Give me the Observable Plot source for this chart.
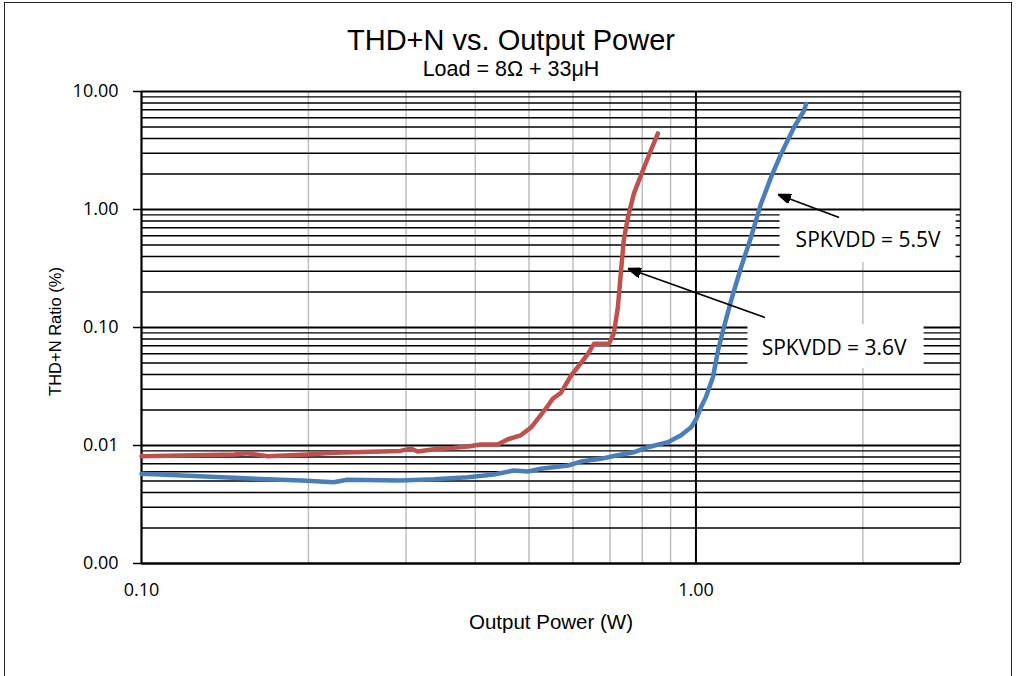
<!DOCTYPE html>
<html>
<head>
<meta charset="utf-8">
<script src="https://cdn.jsdelivr.net/npm/d3@7"></script>
<script src="https://cdn.jsdelivr.net/npm/@observablehq/plot@0.6"></script>
<style>
  html, body { margin: 0; padding: 0; background: #fff; }
  #wrap { position: relative; width: 1019px; height: 676px; overflow: hidden; }
  #border { position: absolute; left: 4px; top: 2px; width: 1008px; height: 720px; border: 1.5px solid #222; box-sizing: border-box; pointer-events: none; }
  svg text { fill: #000; }
</style>
</head>
<body>
<div id="wrap"><div id="border"></div></div>
<script>
// ---- Data ----
const titleText = "THD+N vs. Output Power";
const subtitleText = "Load = 8Ω + 33μH";
const xLabel = "Output Power (W)";
const yLabel = "THD+N Ratio (%)";

const xTicks = [0.1, 1];
const xTickLabels = ["0.10", "1.00"];
const yTicks = [0.001, 0.01, 0.1, 1, 10];
const yTickLabels = ["0.00", "0.01", "0.10", "1.00", "10.00"];

const seriesNames = ["SPKVDD = 3.6V", "SPKVDD = 5.5V"];
const seriesColors = ["#C0504D", "#4A7EBB"];

// SPKVDD = 3.6V (red)
const redPower = [0.100, 0.147, 0.155, 0.169, 0.199, 0.222, 0.293, 0.306, 0.315, 0.337, 0.361, 0.388, 0.409, 0.439, 0.458, 0.483, 0.504, 0.519, 0.541, 0.552, 0.571, 0.595, 0.620, 0.639, 0.655, 0.697, 0.711, 0.723, 0.732, 0.741, 0.754, 0.773, 0.806, 0.829, 0.854];
const redThd   = [0.0081, 0.0084, 0.0086, 0.0081, 0.0084, 0.0087, 0.0090, 0.0094, 0.0089, 0.0093, 0.0095, 0.0098, 0.0102, 0.0102, 0.0113, 0.0122, 0.0142, 0.0169, 0.0218, 0.025, 0.028, 0.039, 0.050, 0.060, 0.073, 0.073, 0.089, 0.148, 0.29, 0.55, 0.86, 1.37, 2.27, 3.16, 4.41];

// SPKVDD = 5.5V (blue)
const bluePower = [0.100, 0.147, 0.194, 0.222, 0.235, 0.293, 0.337, 0.388, 0.432, 0.469, 0.498, 0.525, 0.588, 0.620, 0.674, 0.711, 0.773, 0.819, 0.890, 0.940, 0.980, 1.000, 1.021, 1.042, 1.073, 1.096, 1.119, 1.157, 1.206, 1.257, 1.310, 1.366, 1.424, 1.503, 1.567, 1.580];
const blueThd   = [0.00575, 0.00532, 0.00505, 0.00489, 0.00512, 0.00505, 0.00517, 0.00539, 0.00568, 0.00614, 0.00602, 0.00635, 0.00677, 0.00731, 0.00771, 0.00815, 0.00878, 0.00967, 0.01067, 0.0122, 0.0143, 0.0166, 0.0211, 0.0257, 0.0379, 0.0638, 0.0944, 0.169, 0.324, 0.582, 1.12, 1.88, 2.96, 4.98, 6.90, 7.86];

// Callout labels (data coordinates): box corners, text anchor, arrow tail and tip
const calloutText  = ["SPKVDD = 5.5V", "SPKVDD = 3.6V"];
const calloutBoxX1 = [1.418, 1.241];
const calloutBoxX2 = [2.946, 2.579];
const calloutBoxY1 = [0.943, 0.106];
const calloutBoxY2 = [0.356, 0.045];
const calloutTextX = [2.044, 1.775];
const calloutTextY = [0.546, 0.0664];
const arrowTailX = [1.812, 1.332];
const arrowTailY = [0.855, 0.1216];
const arrowTipX  = [1.406, 0.754];
const arrowTipY  = [1.34, 0.316];

const xDomain = [0.1, 3];
const yDomain = [0.001, 10];

// ---- Derived tables ----
const red = redPower.map((p, i) => ({power: p, thd: redThd[i], series: seriesNames[0]}));
const blue = bluePower.map((p, i) => ({power: p, thd: blueThd[i], series: seriesNames[1]}));
const callouts = calloutText.map((t, i) => ({
  text: t, x1: calloutBoxX1[i], x2: calloutBoxX2[i], y1: calloutBoxY1[i], y2: calloutBoxY2[i],
  tx: calloutTextX[i], ty: calloutTextY[i],
  ax1: arrowTailX[i], ay1: arrowTailY[i], ax2: arrowTipX[i], ay2: arrowTipY[i]
}));

const yMinor = [];
for (let e = -3; e < 1; e++) for (let k = 2; k <= 9; k++) yMinor.push(k * Math.pow(10, e));
const xMinor = [];
for (let e = -1; e < 1; e++) for (let k = 2; k <= 9; k++) { const v = k * Math.pow(10, e); if (v < xDomain[1]) xMinor.push(v); }
const xMinorGrey = xMinor.filter(v => Math.abs(v - 1) > 1e-9);

function filledArrow(color, context) {
  const ns = "http://www.w3.org/2000/svg";
  const doc = (context && context.document) || document;
  const m = doc.createElementNS(ns, "marker");
  m.setAttribute("viewBox", "-13 -5 13 10");
  m.setAttribute("markerWidth", 13);
  m.setAttribute("markerHeight", 10);
  m.setAttribute("markerUnits", "userSpaceOnUse");
  m.setAttribute("orient", "auto");
  m.setAttribute("refX", 0);
  m.setAttribute("refY", 0);
  const p = doc.createElementNS(ns, "path");
  p.setAttribute("d", "M0,0L-13,-4.8L-13,4.8Z");
  p.setAttribute("fill", "#000");
  m.appendChild(p);
  return m;
}

function build(marker) {
  return Plot.plot({
    width: 1019,
    height: 676,
    marginLeft: 141,
    marginRight: 59,
    marginTop: 91,
    marginBottom: 113,
    style: {fontFamily: "'Liberation Sans', Arial, sans-serif", background: "transparent", overflow: "visible"},
    x: {type: "log", domain: xDomain},
    y: {type: "log", domain: yDomain},
    marks: [
      // grid
      Plot.ruleX(xMinorGrey, {stroke: "#bfbfbf", strokeWidth: 1.5}),
      Plot.ruleY(yMinor, {stroke: "#000", strokeWidth: 1.4}),
      Plot.ruleY(yTicks, {stroke: "#000", strokeWidth: 2}),
      Plot.ruleX([1], {stroke: "#000", strokeWidth: 2}),
      Plot.ruleX([xDomain[1]], {stroke: "#222", strokeWidth: 1.5}),
      // callout boxes (white, covering grid)
      Plot.rect(callouts, {x1: "x1", x2: "x2", y1: "y1", y2: "y2", fill: "#fff"}),
      // axes
      Plot.ruleX([xDomain[0]], {stroke: "#000", strokeWidth: 2.2}),
      Plot.ruleY([yDomain[0]], {stroke: "#000", strokeWidth: 2}),
      Plot.axisY({ticks: yTicks, tickFormat: (d) => yTickLabels[yTicks.indexOf(d)], tickSize: 8, tickPadding: 15, fontSize: 18, fontFamily: "'Open Sans', sans-serif", stroke: "#000", strokeWidth: 1.5, label: null}),
      Plot.axisX({ticks: xTicks, tickFormat: d => xTickLabels[xTicks.indexOf(d)], tickSize: 0, tickPadding: 20, fontSize: 18, fontFamily: "'Open Sans', sans-serif", label: null}),
      // series
      Plot.line(red, {x: "power", y: "thd", stroke: seriesColors[0], strokeWidth: 4.5, strokeLinejoin: "round", strokeLinecap: "round"}),
      Plot.line(blue, {x: "power", y: "thd", stroke: seriesColors[1], strokeWidth: 4.5, strokeLinejoin: "round", strokeLinecap: "round"}),
      // arrows
      Plot.link(callouts, {x1: "ax1", y1: "ay1", x2: "ax2", y2: "ay2", stroke: "#000", strokeWidth: 1.6, markerEnd: marker}),
      // callout texts
      Plot.text(callouts, {x: "tx", y: "ty", text: "text", fontSize: 21, fontFamily: "'Open Sans', sans-serif", fill: "#000"}),
      // titles
      Plot.text([titleText], {frameAnchor: "top", textAnchor: "middle", lineAnchor: "middle", dx: -40, dy: -51, fontSize: 29, fill: "#000"}),
      Plot.text([subtitleText], {frameAnchor: "top", textAnchor: "middle", lineAnchor: "middle", dx: -40, dy: -22, fontSize: 21.5, fill: "#000"}),
      Plot.text([xLabel], {frameAnchor: "bottom", textAnchor: "middle", lineAnchor: "middle", dy: 59, fontSize: 20.5, fill: "#000"}),
      Plot.text([yLabel], {frameAnchor: "left", textAnchor: "middle", lineAnchor: "middle", dx: -86, dy: 4, rotate: -90, fontSize: 16.5, fill: "#000"})
    ]
  });
}

let chart;
try { chart = build(filledArrow); } catch (e) { console.error(e); chart = build("arrow"); }
chart.style.position = "absolute";
chart.style.left = "0px";
chart.style.top = "0px";
document.getElementById("wrap").appendChild(chart);
</script>
</body>
</html>
